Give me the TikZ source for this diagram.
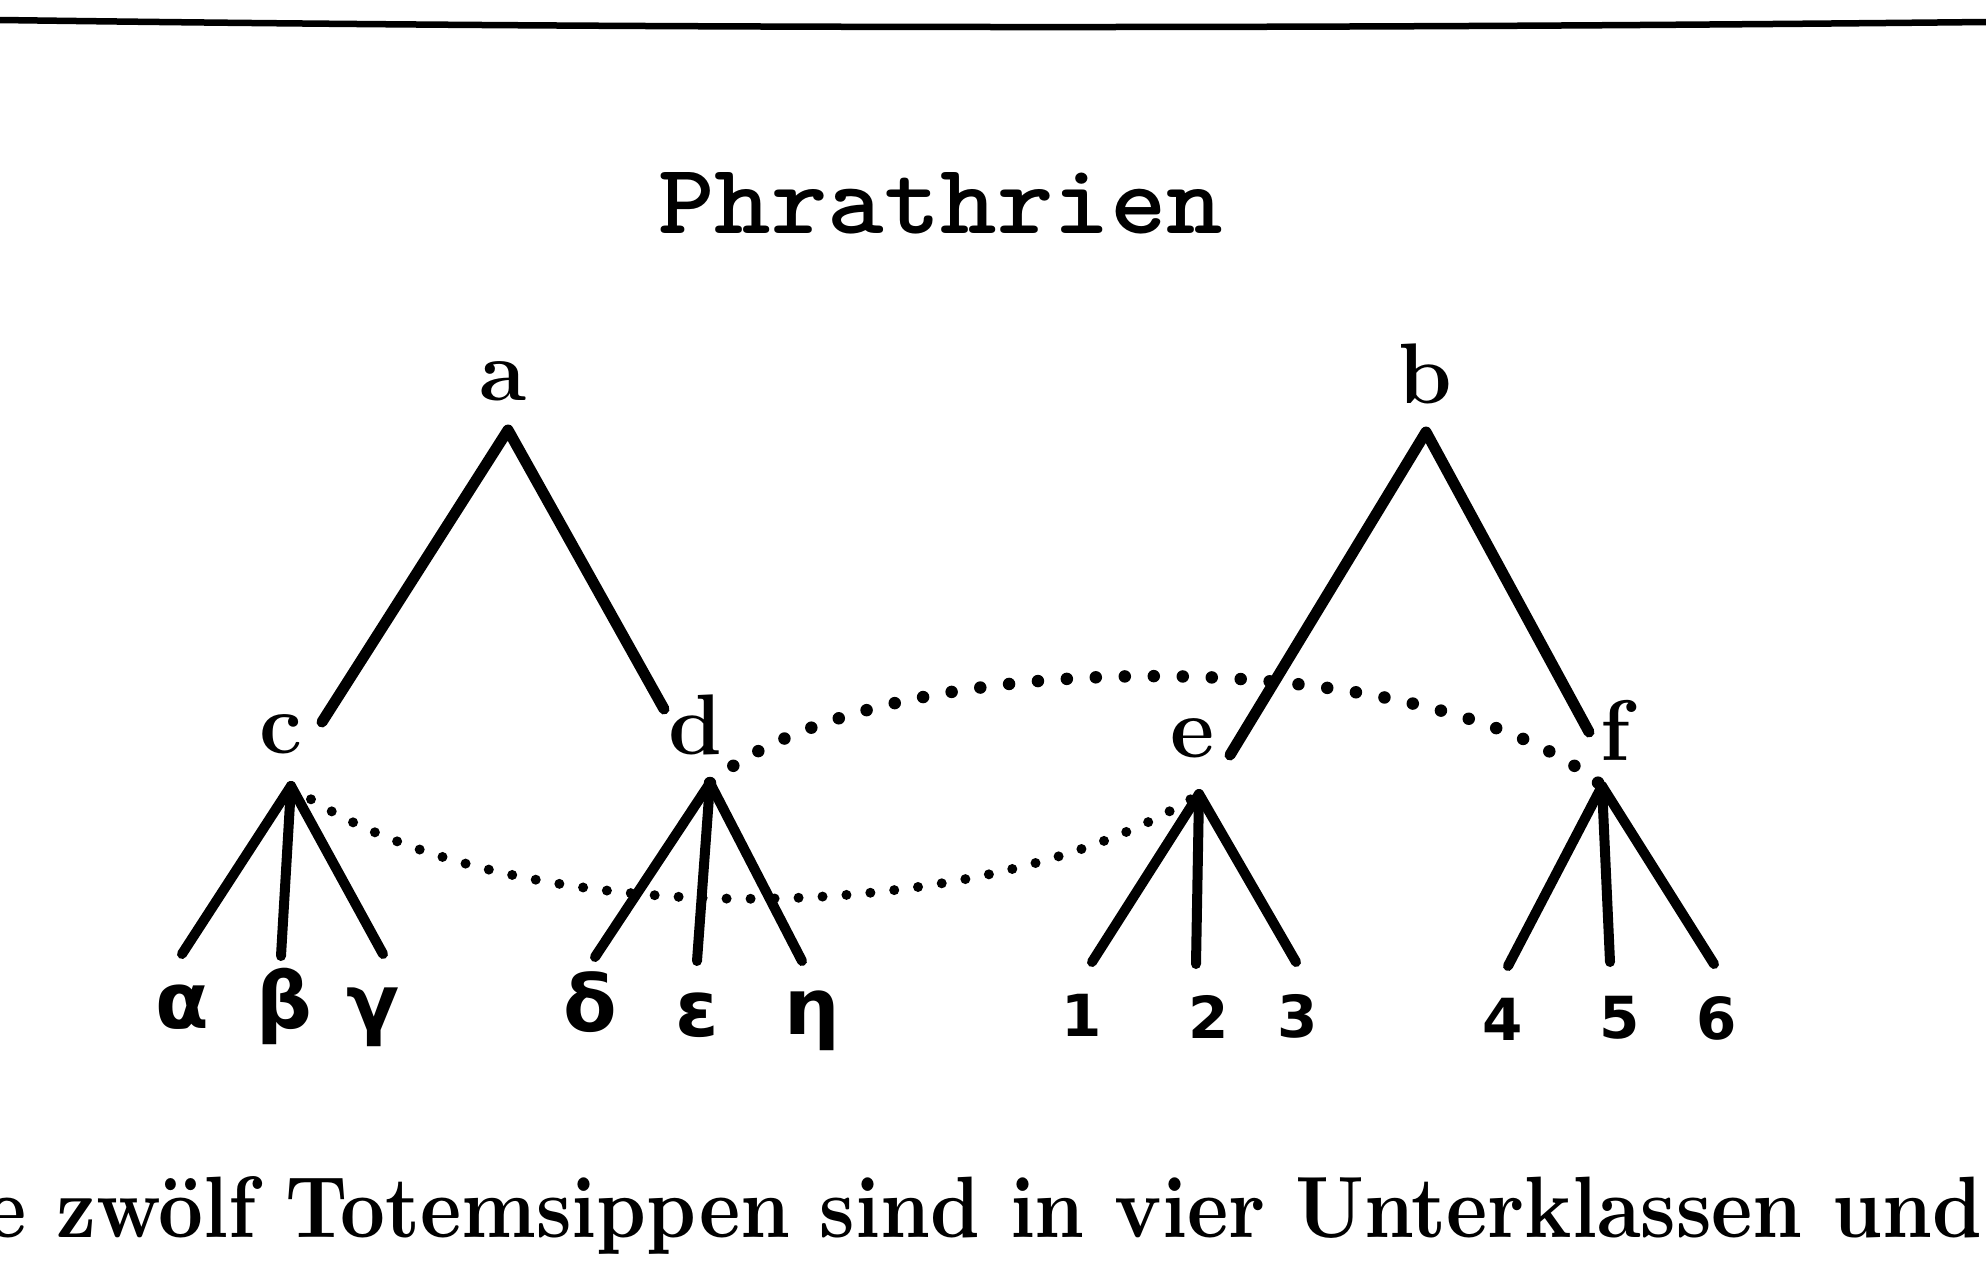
\documentclass[tikz,border=0pt]{standalone}
\usepackage{fontspec}
\usepackage{graphicx}
\newfontfamily\leaffont{DejaVu Sans}
\tikzset{
  branch/.style={line width=11pt, line cap=round, line join=round},
  leg/.style={line width=10pt, line cap=round},
  dotsA/.style={line width=10pt, line cap=round, dash pattern=on 0pt off 24pt},
  dotsB/.style={line width=12.5pt, line cap=round, dash pattern=on 0pt off 29pt},
  knot/.style={font=\fontsize{86}{86}\selectfont\bfseries, inner sep=0pt, anchor=base},
  greek/.style={font=\fontsize{78}{78}\selectfont\leaffont\bfseries, inner sep=0pt, anchor=base},
  digit/.style={font=\fontsize{58}{58}\selectfont\leaffont\bfseries, inner sep=0pt, anchor=base},
  plain/.style={inner sep=0pt, anchor=base west}
}
\begin{document}
\begin{tikzpicture}[x=1pt,y=-1pt]
\fill[white] (0,0) rectangle (1986,1266);
\useasboundingbox (0,0) rectangle (1986,1266);
% top rule
\draw[line width=6.5pt] (0,20) .. controls (660,29) and (1320,29) .. (1986,22);
% title
\node[plain] (title) at (658,233) {\resizebox{565pt}{61pt}{\ttfamily\bfseries Phrathrien}};
% upper labels
\node[knot] (a) at (503,400) {a};
\node[knot] (b) at (1425,403) {b};
\node[knot] (c) at (281,753) {c};
\node[knot] (d) at (695,754) {d};
\node[knot] (e) at (1193,757) {e};
\node[knot] (f) at (1615,760) {f};
% apexes
\coordinate (aT) at (508,430);
\coordinate (bT) at (1426,432);
\coordinate (cT) at (291,786);
\coordinate (dT) at (710,783);
\coordinate (eT) at (1199,794);
\coordinate (fT) at (1602,786);
% upper branch ends
\coordinate (aC) at (322,722);
\coordinate (aD) at (664,709);
\coordinate (bE) at (1230,755);
\coordinate (bF) at (1589,732);
\draw[branch] (aC) -- (aT) -- (aD);
\draw[branch] (bE) -- (bT) -- (bF);
% leg ends
\coordinate (c1) at (182,954);
\coordinate (c2) at (281,956);
\coordinate (c3) at (383,954);
\coordinate (d1) at (595,957);
\coordinate (d2) at (697,961);
\coordinate (d3) at (802,961);
\coordinate (e1) at (1092,962);
\coordinate (e2) at (1196,964);
\coordinate (e3) at (1296,962);
\coordinate (f1) at (1508,966);
\coordinate (f2) at (1610,962);
\coordinate (f3) at (1714,964);
\foreach \n in {c,d,e,f}{
  \draw[leg] (\n T) -- (\n 1);
  \draw[leg] (\n T) -- (\n 2);
  \draw[leg] (\n T) -- (\n 3);
}
% dotted links
\draw[dotsA] (cT) .. controls (500,935) and (980,935) .. (eT);
\draw[dotsB] (dT) .. controls (880,640) and (1430,640) .. (fT);
% leaf labels
\node[greek] (alpha) at (182,1028) {α};
\node[greek] (beta) at (284,1028) {β};
\node[greek] (gamma) at (373,1030) {γ};
\node[greek] (delta) at (590,1031) {δ};
\node[greek] (epsilon) at (697,1036) {ε};
\node[greek] (eta) at (812,1034) {η};
\node[digit] (n1) at (1082,1036) {1};
\node[digit] (n2) at (1209,1038) {2};
\node[digit] (n3) at (1298,1037) {3};
\node[digit] (n4) at (1503,1040) {4};
\node[digit] (n5) at (1620,1038) {5};
\node[digit] (n6) at (1717,1039) {6};
% running text
\node[plain] (caption) at (-15,1237) {\resizebox{1997pt}{61pt}{\bfseries e zwölf Totemsippen sind in vier Unterklassen und}};
\end{tikzpicture}
\end{document}
